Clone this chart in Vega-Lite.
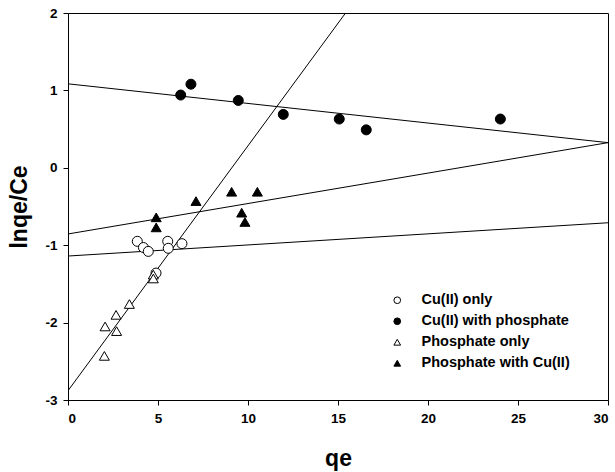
{
  "$schema": "https://vega.github.io/schema/vega-lite/v6.json",
  "width": 540,
  "height": 387,
  "autosize": {"type": "none"},
  "padding": {"left": 68, "top": 13, "right": 7, "bottom": 72},
  "background": "white",
  "config": {
    "view": {"stroke": "black", "strokeWidth": 1},
    "font": "Liberation Sans",
    "axis": {
      "grid": false,
      "domainColor": "black",
      "tickColor": "black",
      "labelColor": "black",
      "titleColor": "black",
      "labelFont": "Liberation Sans",
      "labelFontWeight": "bold",
      "labelFontSize": 13.5,
      "titleFont": "Liberation Sans",
      "titleFontWeight": "bold",
      "titleFontSize": 23,
      "tickSize": 5,
      "labelPadding": 6,
      "labelExpr": "'' + datum.value"
    },
    "legend": {
      "title": null,
      "orient": "none",
      "legendX": 322,
      "legendY": 280,
      "padding": 0,
      "labelFont": "Liberation Sans",
      "labelFontWeight": "bold",
      "labelFontSize": 14.5,
      "labelColor": "black",
      "labelOffset": 17,
      "symbolSize": 45,
      "symbolStrokeWidth": 1,
      "rowPadding": 6
    }
  },
  "datasets": {
    "pts": [
      {"qe": 6.26, "v": 0.94, "series": "Cu(II) with phosphate"},
      {"qe": 6.83, "v": 1.08, "series": "Cu(II) with phosphate"},
      {"qe": 9.46, "v": 0.87, "series": "Cu(II) with phosphate"},
      {"qe": 11.96, "v": 0.69, "series": "Cu(II) with phosphate"},
      {"qe": 15.07, "v": 0.63, "series": "Cu(II) with phosphate"},
      {"qe": 16.57, "v": 0.49, "series": "Cu(II) with phosphate"},
      {"qe": 24.02, "v": 0.63, "series": "Cu(II) with phosphate"},
      {"qe": 4.9, "v": -0.64, "series": "Phosphate with Cu(II)"},
      {"qe": 4.9, "v": -0.77, "series": "Phosphate with Cu(II)"},
      {"qe": 7.11, "v": -0.43, "series": "Phosphate with Cu(II)"},
      {"qe": 9.09, "v": -0.31, "series": "Phosphate with Cu(II)"},
      {"qe": 10.52, "v": -0.31, "series": "Phosphate with Cu(II)"},
      {"qe": 9.65, "v": -0.58, "series": "Phosphate with Cu(II)"},
      {"qe": 9.83, "v": -0.7, "series": "Phosphate with Cu(II)"},
      {"qe": 3.85, "v": -0.95, "series": "Cu(II) only"},
      {"qe": 4.19, "v": -1.03, "series": "Cu(II) only"},
      {"qe": 4.46, "v": -1.08, "series": "Cu(II) only"},
      {"qe": 5.54, "v": -0.95, "series": "Cu(II) only"},
      {"qe": 5.57, "v": -1.04, "series": "Cu(II) only"},
      {"qe": 6.33, "v": -0.98, "series": "Cu(II) only"},
      {"qe": 4.89, "v": -1.36, "series": "Cu(II) only"},
      {"qe": 4.74, "v": -1.38, "series": "Phosphate only"},
      {"qe": 4.74, "v": -1.43, "series": "Phosphate only"},
      {"qe": 3.41, "v": -1.76, "series": "Phosphate only"},
      {"qe": 2.67, "v": -1.9, "series": "Phosphate only"},
      {"qe": 2.06, "v": -2.05, "series": "Phosphate only"},
      {"qe": 2.7, "v": -2.11, "series": "Phosphate only"},
      {"qe": 2.02, "v": -2.43, "series": "Phosphate only"}
    ],
    "fits": [
      {"qe": 0, "v": 1.085, "line": "a"},
      {"qe": 30, "v": 0.325, "line": "a"},
      {"qe": 0, "v": -0.855, "line": "b"},
      {"qe": 30, "v": 0.325, "line": "b"},
      {"qe": 0, "v": -1.14, "line": "c"},
      {"qe": 30, "v": -0.71, "line": "c"},
      {"qe": 0, "v": -2.88, "line": "d"},
      {"qe": 15.42, "v": 2, "line": "d"}
    ]
  },
  "layer": [
    {
      "data": {"name": "fits"},
      "mark": {"type": "line", "color": "black", "strokeWidth": 1, "clip": true},
      "encoding": {
        "x": {"field": "qe", "type": "quantitative"},
        "y": {"field": "v", "type": "quantitative"},
        "detail": {"field": "line", "type": "nominal"}
      }
    },
    {
      "data": {"name": "pts"},
      "mark": {"type": "point", "size": 100, "strokeWidth": 1, "opacity": 1, "fillOpacity": 1},
      "encoding": {
        "x": {
          "field": "qe", "type": "quantitative",
          "scale": {"domain": [0, 30], "nice": false, "zero": false},
          "axis": {"values": [0, 5, 10, 15, 20, 25, 30], "title": "qe", "titlePadding": 23}
        },
        "y": {
          "field": "v", "type": "quantitative",
          "scale": {"domain": [-3, 2], "nice": false, "zero": false},
          "axis": {"values": [-3, -2, -1, 0, 1, 2], "title": "lnqe/Ce", "titlePadding": 13}
        },
        "shape": {
          "field": "series", "type": "nominal",
          "scale": {
            "domain": ["Cu(II) only", "Cu(II) with phosphate", "Phosphate only", "Phosphate with Cu(II)"],
            "range": ["circle", "circle", "triangle-up", "triangle-up"]
          }
        },
        "fill": {
          "field": "series", "type": "nominal",
          "scale": {
            "domain": ["Cu(II) only", "Cu(II) with phosphate", "Phosphate only", "Phosphate with Cu(II)"],
            "range": ["white", "black", "white", "black"]
          }
        },
        "stroke": {
          "field": "series", "type": "nominal",
          "scale": {
            "domain": ["Cu(II) only", "Cu(II) with phosphate", "Phosphate only", "Phosphate with Cu(II)"],
            "range": ["black", "black", "black", "black"]
          }
        }
      }
    }
  ]
}
